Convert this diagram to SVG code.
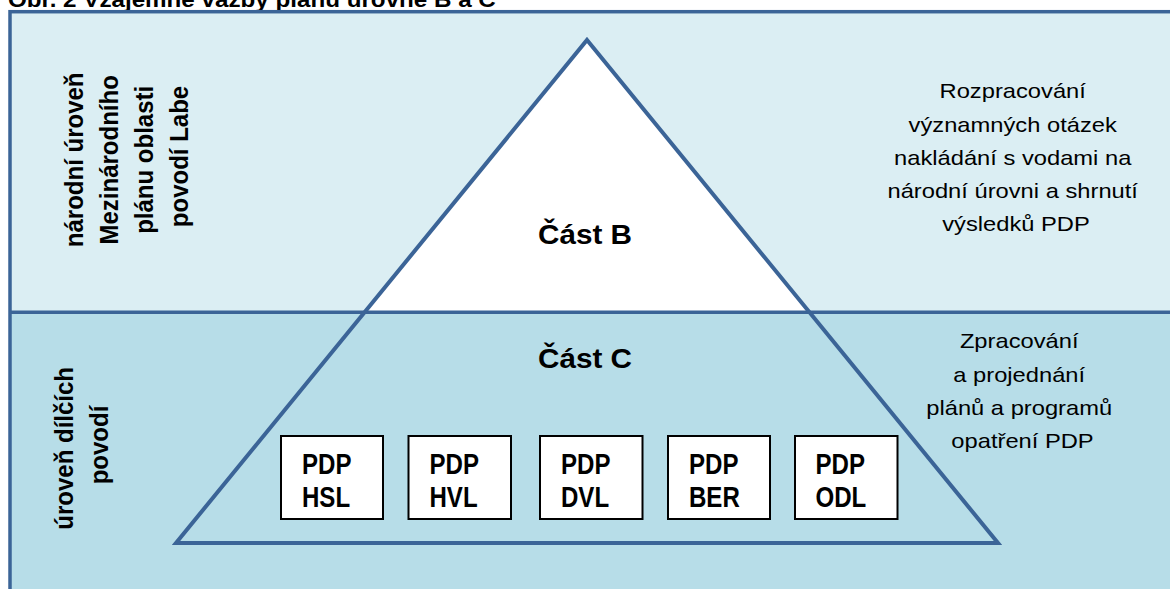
<svg xmlns="http://www.w3.org/2000/svg" width="1170" height="589" viewBox="0 0 1170 589">
<style>
  .frame { stroke: #3B6497; stroke-width: 3.5; fill: none; }
  .tri { stroke: #3B6497; stroke-width: 4; fill: none; stroke-linejoin: miter; }
  .box { fill: #FFFFFF; stroke: #000000; stroke-width: 2; }
  .t { font-family: "Liberation Sans", Arial, sans-serif; fill: #000000; }
  .b { font-weight: bold; }
  .boxt { font-family: "Liberation Sans", Arial, sans-serif; font-weight: bold; font-size: 29px; fill: #000; }
</style>
<rect x="0" y="0" width="1170" height="589" fill="#FFFFFF"/>
<text class="t b" font-size="22" transform="translate(8,7) scale(1.1,1)">Obr. 2  Vzájemné vazby plánů úrovně B a C</text>

<g id="bands">
  <rect x="10" y="11.5" width="1170" height="300.8" fill="#DBEEF3"/>
  <rect x="10" y="312.3" width="1170" height="290" fill="#B7DDE8"/>
</g>

<g id="pyramid">
  <polygon points="587,40 809.3,312.3 364.7,312.3" fill="#FFFFFF"/>
  <line class="frame" x1="10" y1="312.3" x2="1180" y2="312.3"/>
  <rect class="frame" x="10" y="11.7" width="1200" height="700"/>
  <polygon class="tri" points="587,40 998,543 176,543"/>
</g>

<g id="level-national">
  <text class="t b" font-size="24" text-anchor="middle" transform="translate(83,156.5) scale(1.1,1) rotate(-90)">
    <tspan x="0" y="0">národní úroveň</tspan>
    <tspan x="0" dy="31.8">Mezinárodního</tspan>
    <tspan x="0" dy="31.8">plánu oblasti</tspan>
    <tspan x="0" dy="31.8">povodí Labe</tspan>
  </text>
</g>

<g id="level-subbasin">
  <text class="t b" font-size="24" text-anchor="middle" transform="translate(73.3,445) scale(1.1,1) rotate(-90)">
    <tspan x="0" y="0">úroveň dílčích</tspan>
    <tspan x="0" dy="31.8">povodí</tspan>
  </text>
</g>

<g id="part-b">
  <text class="t b" font-size="27" text-anchor="middle" transform="translate(585,244) scale(1.1,1)">Část B</text>
</g>

<g id="part-c">
  <text class="t b" font-size="27" text-anchor="middle" transform="translate(585,367.5) scale(1.1,1)">Část C</text>
</g>

<g id="desc-b">
  <text class="t" font-size="21" text-anchor="middle" transform="translate(1016,98.3) scale(1.13,1)">
    <tspan x="0" y="0">Rozpracování</tspan>
    <tspan x="0" dy="33.3">významných otázek</tspan>
    <tspan x="0" dy="33.3">nakládání s vodami na</tspan>
    <tspan x="0" dy="33.3">národní úrovni a shrnutí</tspan>
    <tspan x="0" dy="33.3">výsledků PDP</tspan>
  </text>
</g>

<g id="desc-c">
  <text class="t" font-size="21" text-anchor="middle" transform="translate(1022.5,348.3) scale(1.13,1)">
    <tspan x="0" y="0">Zpracování</tspan>
    <tspan x="0" dy="33.3">a projednání</tspan>
    <tspan x="0" dy="33.3">plánů a programů</tspan>
    <tspan x="0" dy="33.3">opatření PDP</tspan>
  </text>
</g>

<g id="pdp-hsl">
  <rect class="box" x="281" y="436" width="102" height="83"/>
  <text class="boxt" transform="translate(302,474) scale(0.83,1)"><tspan x="0" y="0">PDP</tspan><tspan x="0" y="33">HSL</tspan></text>
</g>
<g id="pdp-hvl">
  <rect class="box" x="408.5" y="436" width="102.5" height="83"/>
  <text class="boxt" transform="translate(429.5,474) scale(0.83,1)"><tspan x="0" y="0">PDP</tspan><tspan x="0" y="33">HVL</tspan></text>
</g>
<g id="pdp-dvl">
  <rect class="box" x="540" y="436" width="102.5" height="83"/>
  <text class="boxt" transform="translate(561,474) scale(0.83,1)"><tspan x="0" y="0">PDP</tspan><tspan x="0" y="33">DVL</tspan></text>
</g>
<g id="pdp-ber">
  <rect class="box" x="668" y="436" width="102" height="83"/>
  <text class="boxt" transform="translate(689,474) scale(0.83,1)"><tspan x="0" y="0">PDP</tspan><tspan x="0" y="33">BER</tspan></text>
</g>
<g id="pdp-odl">
  <rect class="box" x="795" y="436" width="102.5" height="83"/>
  <text class="boxt" transform="translate(815.5,474) scale(0.83,1)"><tspan x="0" y="0">PDP</tspan><tspan x="0" y="33">ODL</tspan></text>
</g>
</svg>
